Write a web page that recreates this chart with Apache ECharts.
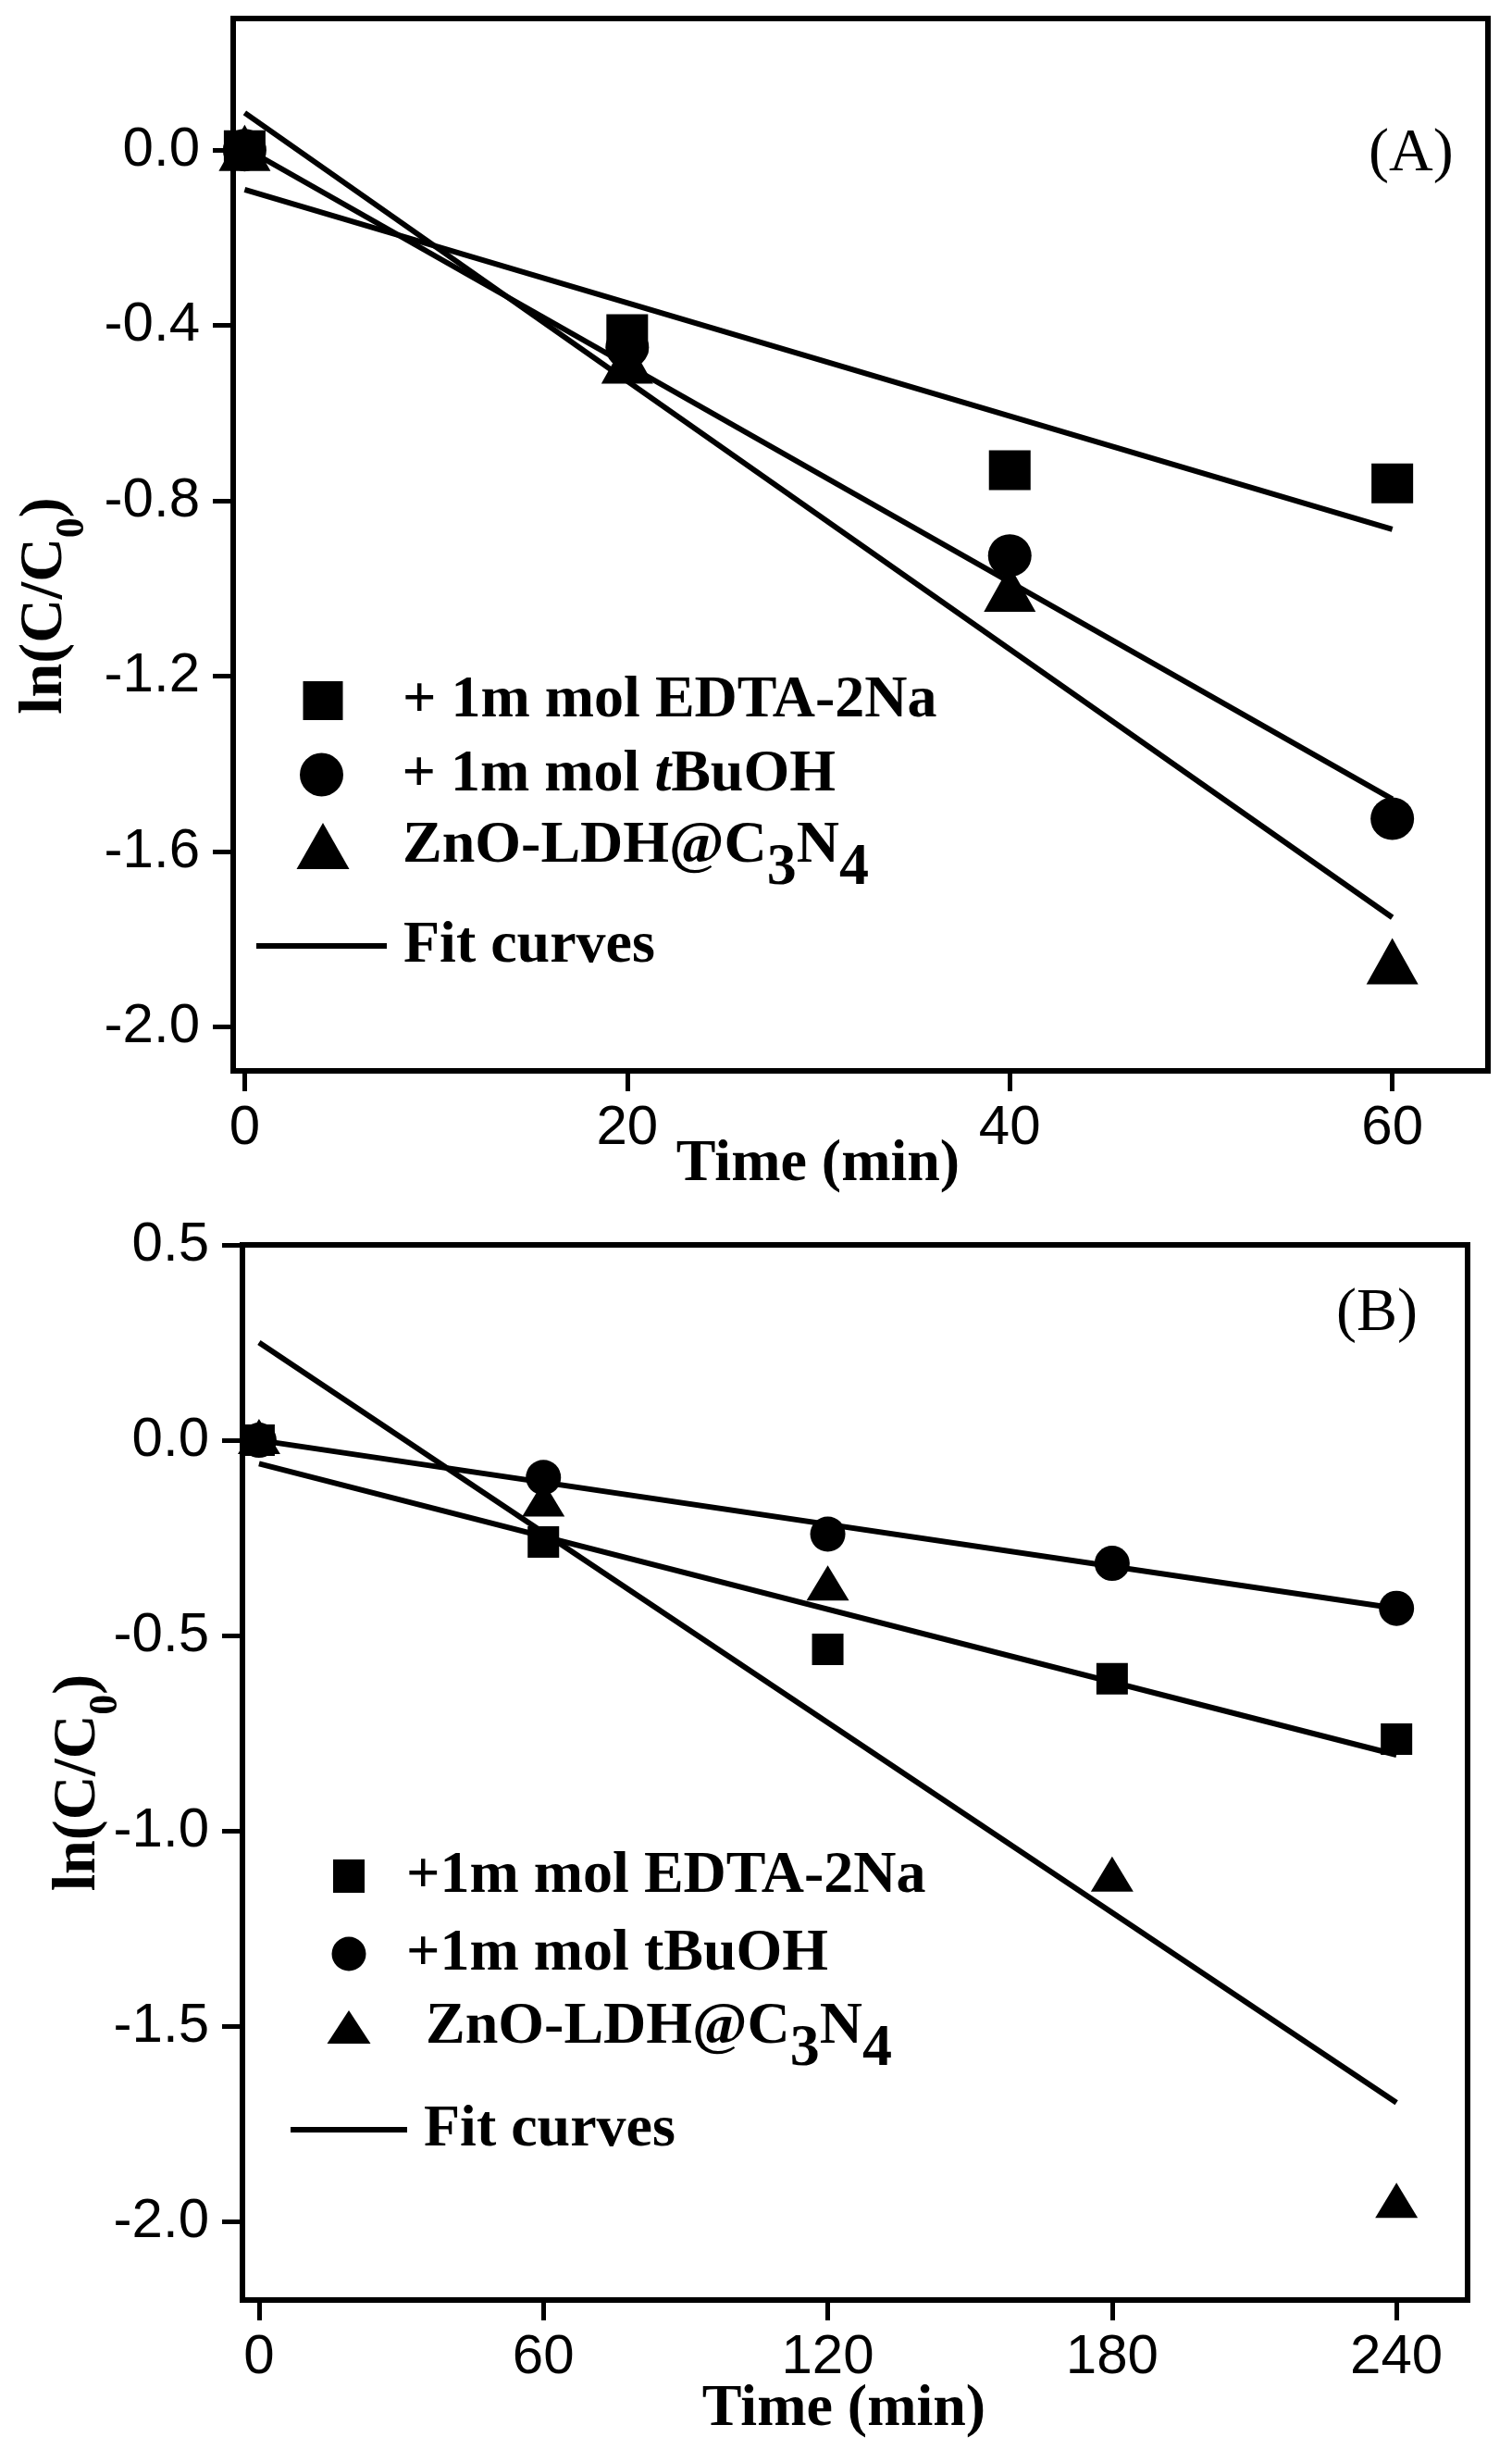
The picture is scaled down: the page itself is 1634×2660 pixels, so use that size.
<!DOCTYPE html>
<html>
<head>
<meta charset="utf-8">
<title>ln(C/C0) vs time</title>
<script src="https://cdn.jsdelivr.net/npm/echarts@6/dist/echarts.min.js"></script>
<style>
  html, body { margin: 0; padding: 0; background: #fff; }
  #main { width: 1634px; height: 2660px; }
</style>
</head>
<body>
<div id="main"></div>
<script>
// panel (A)
var timeA = [0, 20, 40, 60];
var edtaA = [0, -0.42, -0.73, -0.76];
var tbuohA = [0, -0.45, -0.925, -1.525];
var znoA = [0.005, -0.48, -1.0, -1.85];
var fitTimeA = [0, 60];
var fitEdtaA = [-0.09, -0.865];
var fitTbuohA = [0.005, -1.48];
var fitZnoA = [0.085, -1.75];
var xTicksA = [0, 20, 40, 60];
var yTicksA = [-2.0, -1.6, -1.2, -0.8, -0.4, 0.0];

// panel (B)
var timeB = [0, 60, 120, 180, 240];
var edtaB = [0, -0.26, -0.535, -0.61, -0.765];
var tbuohB = [0, -0.095, -0.24, -0.315, -0.43];
var znoB = [0.01, -0.15, -0.365, -1.11, -1.945];
var fitTimeB = [0, 240];
var fitEdtaB = [-0.06, -0.805];
var fitTbuohB = [0, -0.43];
var fitZnoB = [0.25, -1.695];
var xTicksB = [0, 60, 120, 180, 240];
var yTicksB = [-2.0, -1.5, -1.0, -0.5, 0.0, 0.5];

var SERIF = 'Liberation Serif, Times New Roman, serif';
var SANS = 'Liberation Sans, Arial, sans-serif';

function pairs(xs, ys) {
    return xs.map(function (x, i) { return [x, ys[i]]; });
}

function xAxis(gridIndex, min, max, ticks, gap, padR) {
    return {
        type: 'value', gridIndex: gridIndex, min: min, max: max,
        name: 'Time (min)', nameLocation: 'middle', nameGap: gap, nameMoveOverlap: false,
        nameTextStyle: { fontFamily: SERIF, fontWeight: 'bold', fontSize: 64, lineHeight: 64, color: '#000', padding: [0, padR, 0, 0] },
        axisLine: { show: true, onZero: false, lineStyle: { color: '#000', width: 6 } },
        axisTick: { show: true, inside: false, length: 22, customValues: ticks, lineStyle: { color: '#000', width: 5 } },
        axisLabel: { customValues: ticks, margin: 32, fontFamily: SANS, fontSize: 60, color: '#000' },
        splitLine: { show: false }
    };
}

function yAxis(gridIndex, min, max, ticks, gap, padR) {
    return {
        type: 'value', gridIndex: gridIndex, min: min, max: max,
        name: 'ln(C/C{s|0})', nameLocation: 'middle', nameRotate: 90, nameGap: gap, nameMoveOverlap: false,
        nameTextStyle: {
            fontFamily: SERIF, fontWeight: 'bold', fontSize: 66, lineHeight: 66, color: '#000', padding: [0, padR, 0, 0],
            rich: { s: { fontFamily: SERIF, fontWeight: 'bold', fontSize: 44, lineHeight: 44, color: '#000', padding: [60, 0, 0, 0] } }
        },
        axisLine: { show: true, onZero: false, lineStyle: { color: '#000', width: 6 } },
        axisTick: { show: true, inside: false, length: 22, customValues: ticks, lineStyle: { color: '#000', width: 5 } },
        axisLabel: {
            customValues: ticks, margin: 36, fontFamily: SANS, fontSize: 60, color: '#000',
            formatter: function (v) { return v.toFixed(1); }
        },
        splitLine: { show: false }
    };
}

function scatter(name, idx, symbol, size, xs, ys) {
    return {
        name: name, type: 'scatter', xAxisIndex: idx, yAxisIndex: idx,
        symbol: symbol, symbolSize: size, itemStyle: { color: '#000', opacity: 1 },
        data: pairs(xs, ys)
    };
}

function fit(idx, xs, ys) {
    return {
        name: 'Fit curves', type: 'line', xAxisIndex: idx, yAxisIndex: idx,
        symbol: 'none', lineStyle: { color: '#000', width: 6 }, itemStyle: { color: '#000' },
        data: pairs(xs, ys), z: 3
    };
}

// one legend per row so each row can sit where it is in the figure
function legendRow(name, icon, label, cx, cy, w, h, textLeft, blockH) {
    var left = cx - w / 2;
    return {
        data: [{ name: name, icon: icon }],
        orient: 'vertical', selectedMode: false, padding: 0,
        left: left, top: cy - Math.max(h, blockH) / 2,
        itemWidth: w, itemHeight: h,
        itemStyle: { color: '#000', opacity: 1, borderWidth: 0 },
        formatter: function () { return label; },
        textStyle: {
            fontFamily: SERIF, fontWeight: 'bold', fontSize: 64, lineHeight: 64, color: '#000',
            padding: [0, 0, 0, textLeft - (left + w + 5)],
            rich: {
                s: { fontFamily: SERIF, fontWeight: 'bold', fontSize: 64, lineHeight: 64, color: '#000', padding: [48, 0, 0, 0] },
                i: { fontFamily: SERIF, fontWeight: 'bold', fontStyle: 'italic', fontSize: 64, lineHeight: 64, color: '#000' }
            }
        }
    };
}

var myChart = echarts.init(document.getElementById('main'));
var option = {
    animation: false,
    backgroundColor: '#fff',
    title: [
        { text: '(A)', left: 1479, top: 134, padding: 0, textStyle: { fontFamily: SERIF, fontWeight: 'normal', fontSize: 66, lineHeight: 66, color: '#000' } },
        { text: '(B)', left: 1444, top: 1387, padding: 0, textStyle: { fontFamily: SERIF, fontWeight: 'normal', fontSize: 66, lineHeight: 66, color: '#000' } }
    ],
    grid: [
        { left: 252, right: 26, top: 20, height: 1137, show: true, borderColor: '#000', borderWidth: 6, containLabel: false, outerBoundsMode: 'none' },
        { left: 262, right: 48, top: 1345, height: 1140, show: true, borderColor: '#000', borderWidth: 6, containLabel: false, outerBoundsMode: 'none' }
    ],
    xAxis: [
        xAxis(0, -0.6, 65, xTicksA, 69, 92),
        xAxis(1, -3.5, 255, xTicksB, 86, 24)
    ],
    yAxis: [
        yAxis(0, -2.1, 0.3, yTicksA, 170, 132),
        yAxis(1, -2.2, 0.5, yTicksB, 144, 22)
    ],
    legend: [
        legendRow('EDTA_A', 'rect', '+ 1m mol EDTA-2Na', 349, 757, 43, 42, 435, 64),
        legendRow('TBUOH_A', 'circle', '+ 1m mol {i|t}BuOH', 348, 837, 48, 47, 435, 64),
        legendRow('ZNO_A', 'triangle', 'ZnO-LDH@C{s|3}N{s|4}', 349, 914, 57, 50, 435, 112),
        legendRow('Fit curves', 'rect', 'Fit curves', 347.5, 1022, 141, 6, 436, 64),
        legendRow('EDTA_B', 'rect', '+1m mol EDTA-2Na', 377, 2027, 34, 36, 439, 64),
        legendRow('TBUOH_B', 'circle', '+1m mol tBuOH', 377, 2111, 37, 39, 439, 64),
        legendRow('ZNO_B', 'triangle', 'ZnO-LDH@C{s|3}N{s|4}', 377, 2190, 47, 36, 460, 112),
        legendRow('Fit curves', 'rect', 'Fit curves', 377, 2301, 126, 6, 458, 64)
    ],
    series: [
        scatter('EDTA_A', 0, 'rect', [45, 43], timeA, edtaA),
        scatter('TBUOH_A', 0, 'circle', [47, 46], timeA, tbuohA),
        scatter('ZNO_A', 0, 'triangle', [56, 50], timeA, znoA),
        fit(0, fitTimeA, fitEdtaA),
        fit(0, fitTimeA, fitTbuohA),
        fit(0, fitTimeA, fitZnoA),
        scatter('EDTA_B', 1, 'rect', [34, 34], timeB, edtaB),
        scatter('TBUOH_B', 1, 'circle', [38, 38], timeB, tbuohB),
        scatter('ZNO_B', 1, 'triangle', [46, 38], timeB, znoB),
        fit(1, fitTimeB, fitEdtaB),
        fit(1, fitTimeB, fitTbuohB),
        fit(1, fitTimeB, fitZnoB)
    ]
};
myChart.setOption(option);
</script>
</body>
</html>
